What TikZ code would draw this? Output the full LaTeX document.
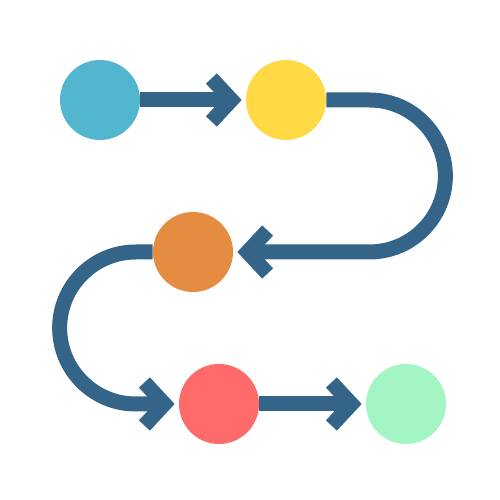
\documentclass[tikz,border=0pt]{standalone}
\usepackage{xcolor}
\usepackage{tikz}
\usetikzlibrary{arrows.meta}
\definecolor{pesky}{RGB}{82,182,206}
\definecolor{pesun}{RGB}{255,218,68}
\definecolor{peorange}{RGB}{228,140,64}
\definecolor{pecoral}{RGB}{255,107,107}
\definecolor{pemint}{RGB}{163,245,195}
\definecolor{peroad}{RGB}{52,101,137}

\begin{document}
\begin{tikzpicture}[x=1cm,
    stop/.style={circle,minimum size=1.6cm,inner sep=0},
    road/.style={draw=peroad,line width=0.3cm,shorten >=0.08cm,
                 -{Straight Barb[length=0.40cm,width=0.86cm,line width=0.3cm]}}]
      \useasboundingbox (0,0) rectangle (10,10);
      \foreach \name/\col/\pos in {sky/pesky/{(2,8)},sun/pesun/{(5.72,8)},
          orange/peorange/{(3.86,4.96)},coral/pecoral/{(4.38,1.92)},
          mint/pemint/{(8.12,1.92)}}{%
        \node[stop,fill=\col] (\name) at \pos {};
      }
      \draw[road] (sky.east) -- (sun.west);
      \draw[road] (sun.east) -- ++(0.86,0)
            arc[start angle=90,end angle=-90,radius=1.52] -- (orange.east);
      \draw[road] (orange.west) -- ++(-0.34,0)
            arc[start angle=90,end angle=270,radius=1.52] -- (coral.west);
      \draw[road] (coral.east) -- (mint.west);
    \end{tikzpicture}
\end{document}
